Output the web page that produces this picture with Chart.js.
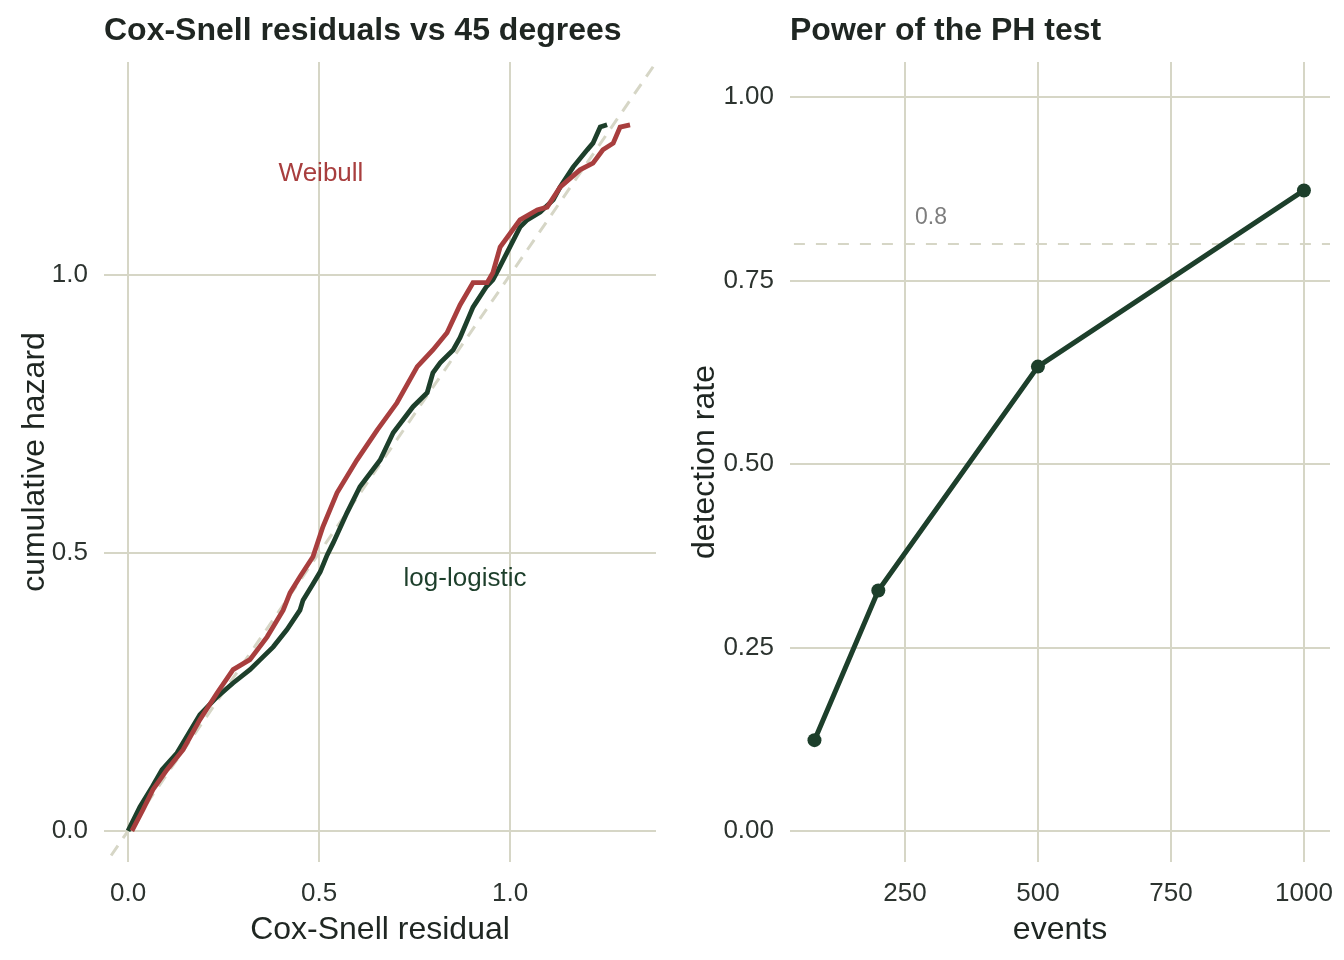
<!DOCTYPE html>
<html>
<head>
<meta charset="utf-8">
<script src="https://cdn.jsdelivr.net/npm/chart.js@4"></script>
<style>
    html, body { margin: 0; padding: 0; background: #ffffff; }
    .wrap { display: flex; width: 1344px; height: 960px; }
    canvas { display: block; }
</style>
</head>
<body>
<div class="wrap">
    <canvas id="residualChart" width="672" height="960"></canvas>
    <canvas id="powerChart" width="672" height="960"></canvas>
</div>
<script>
// --- Data ---
const weibullResidual = [0.010, 0.039, 0.065, 0.102, 0.144, 0.188, 0.233, 0.275, 0.319, 0.364, 0.406, 0.424, 0.450, 0.484, 0.510, 0.547, 0.599, 0.652, 0.704, 0.757, 0.798, 0.835, 0.869, 0.903, 0.940, 0.955, 0.974, 1.026, 1.071, 1.097, 1.131, 1.183, 1.217, 1.243, 1.270, 1.288, 1.314];
const weibullHazard = [0.000, 0.038, 0.074, 0.110, 0.146, 0.200, 0.248, 0.290, 0.308, 0.349, 0.397, 0.428, 0.457, 0.493, 0.547, 0.608, 0.667, 0.721, 0.770, 0.835, 0.865, 0.896, 0.946, 0.986, 0.986, 1.004, 1.050, 1.099, 1.117, 1.122, 1.158, 1.189, 1.201, 1.225, 1.237, 1.266, 1.270];

const loglogResidual = [0.000, 0.031, 0.063, 0.089, 0.128, 0.188, 0.233, 0.275, 0.319, 0.346, 0.380, 0.416, 0.450, 0.458, 0.482, 0.503, 0.521, 0.537, 0.573, 0.607, 0.660, 0.694, 0.746, 0.783, 0.798, 0.817, 0.851, 0.869, 0.903, 0.937, 0.955, 0.969, 0.992, 1.026, 1.045, 1.079, 1.113, 1.131, 1.165, 1.202, 1.217, 1.236, 1.254];
const loglogHazard = [0.000, 0.043, 0.079, 0.110, 0.140, 0.209, 0.241, 0.266, 0.290, 0.308, 0.331, 0.362, 0.397, 0.415, 0.442, 0.466, 0.496, 0.518, 0.572, 0.619, 0.667, 0.716, 0.763, 0.788, 0.824, 0.842, 0.865, 0.887, 0.942, 0.978, 0.991, 1.009, 1.040, 1.086, 1.099, 1.113, 1.135, 1.158, 1.194, 1.225, 1.237, 1.266, 1.270];

const diagonalEnds = [-0.2, 1.6];

const eventCounts = [80, 200, 500, 1000];
const detectionRates = [0.124, 0.328, 0.633, 0.873];
const powerTarget = 0.8;

const residualTicks = [0, 0.5, 1.0];
const hazardTicks = [0, 0.5, 1.0];
const eventTicks = [250, 500, 750, 1000];
const rateTicks = [0, 0.25, 0.5, 0.75, 1.0];

// --- Look ---
const FONT = '"Liberation Sans", Arial, Helvetica, sans-serif';
const RED = '#a83e3e';
const GREEN = '#1d3f2b';
const GRID = '#d6d6c6';
const TEXT = '#1f2622';
const TICK_TEXT = '#2c332f';

const zip = (xs, ys) => xs.map((x, i) => ({ x: x, y: ys[i] }));

// draws panel title, axis titles and in-plot labels
function textLayer(cfg) {
    return {
        id: 'textLayer',
        afterDraw(chart) {
            const ctx = chart.ctx;
            const area = chart.chartArea;
            ctx.save();
            ctx.fillStyle = TEXT;

            // panel title
            ctx.font = 'bold 32px ' + FONT;
            ctx.textAlign = 'left';
            ctx.textBaseline = 'alphabetic';
            ctx.fillText(cfg.title, area.left, 40);

            // x axis title
            ctx.font = '32px ' + FONT;
            ctx.textAlign = 'center';
            ctx.fillText(cfg.xTitle, (area.left + area.right) / 2, 939);

            // y axis title
            ctx.save();
            ctx.translate(cfg.yTitleX, (area.top + area.bottom) / 2);
            ctx.rotate(-Math.PI / 2);
            ctx.fillText(cfg.yTitle, 0, 0);
            ctx.restore();

            // labels inside plot
            cfg.labels.forEach(l => {
                ctx.font = l.size + 'px ' + FONT;
                ctx.fillStyle = l.color;
                const px = chart.scales.x.getPixelForValue(l.x);
                const py = chart.scales.y.getPixelForValue(l.y);
                ctx.fillText(l.text, px, py + l.size * 0.716 / 2);
            });
            ctx.restore();
        }
    };
}

function axisOptions(min, max, ticks, digits, fixedSize, horizontal) {
    return {
        type: 'linear',
        min: min,
        max: max,
        afterBuildTicks: scale => { scale.ticks = ticks.map(v => ({ value: v })); },
        afterFit: scale => {
            // keep the panel exactly where the reference has it
            if (horizontal) scale.height = fixedSize; else scale.width = fixedSize;
            scale.paddingLeft = 0;
            scale.paddingRight = 0;
            scale.paddingTop = 0;
            scale.paddingBottom = 0;
        },
        grid: { color: GRID, lineWidth: 2, drawTicks: false },
        border: { display: false },
        ticks: {
            padding: 16,
            color: TICK_TEXT,
            font: { family: FONT, size: 26 },
            callback: v => Number(v).toFixed(digits)
        }
    };
}

// --- Cox-Snell panel ---
new Chart(document.getElementById('residualChart').getContext('2d'), {
    type: 'line',
    data: {
        datasets: [
            { label: 'Weibull', data: zip(weibullResidual, weibullHazard), borderColor: RED, borderWidth: 4.8, pointRadius: 0, tension: 0 },
            { label: 'log-logistic', data: zip(loglogResidual, loglogHazard), borderColor: GREEN, borderWidth: 4.8, pointRadius: 0, tension: 0 },
            { label: '45 degrees', data: zip(diagonalEnds, diagonalEnds), borderColor: GRID, borderWidth: 3, borderDash: [12, 9], pointRadius: 0 }
        ]
    },
    options: {
        responsive: false,
        animation: false,
        layout: { padding: { top: 62, right: 16, left: 0, bottom: 0 } },
        scales: {
            x: axisOptions(-0.063, 1.382, residualTicks, 1, 98, true),
            y: axisOptions(-0.056, 1.383, hazardTicks, 1, 104, false)
        },
        plugins: { legend: { display: false }, tooltip: { enabled: false } }
    },
    plugins: [textLayer({
        title: 'Cox-Snell residuals vs 45 degrees',
        xTitle: 'Cox-Snell residual',
        yTitle: 'cumulative hazard',
        yTitleX: 43.5,
        labels: [
            { text: 'Weibull', x: 0.505, y: 1.185, size: 26, color: RED },
            { text: 'log-logistic', x: 0.882, y: 0.457, size: 26, color: GREEN }
        ]
    })]
});

// --- Power panel ---
new Chart(document.getElementById('powerChart').getContext('2d'), {
    type: 'line',
    data: {
        datasets: [
            { label: 'detection rate', data: zip(eventCounts, detectionRates), borderColor: GREEN, backgroundColor: GREEN, borderWidth: 5, pointRadius: 7, pointBorderWidth: 0, tension: 0 },
            { label: 'target', data: zip([0, 1100], [powerTarget, powerTarget]), borderColor: GRID, borderWidth: 2, borderDash: [11, 11], pointRadius: 0 }
        ]
    },
    options: {
        responsive: false,
        animation: false,
        layout: { padding: { top: 62, right: 14, left: 0, bottom: 0 } },
        scales: {
            x: axisOptions(34, 1049, eventTicks, 0, 98, true),
            y: axisOptions(-0.042, 1.048, rateTicks, 2, 118, false)
        },
        plugins: { legend: { display: false }, tooltip: { enabled: false } }
    },
    plugins: [textLayer({
        title: 'Power of the PH test',
        xTitle: 'events',
        yTitle: 'detection rate',
        yTitleX: 41.5,
        labels: [
            { text: '0.8', x: 299, y: 0.838, size: 23, color: '#7d7d7d' }
        ]
    })]
});
</script>
</body>
</html>
